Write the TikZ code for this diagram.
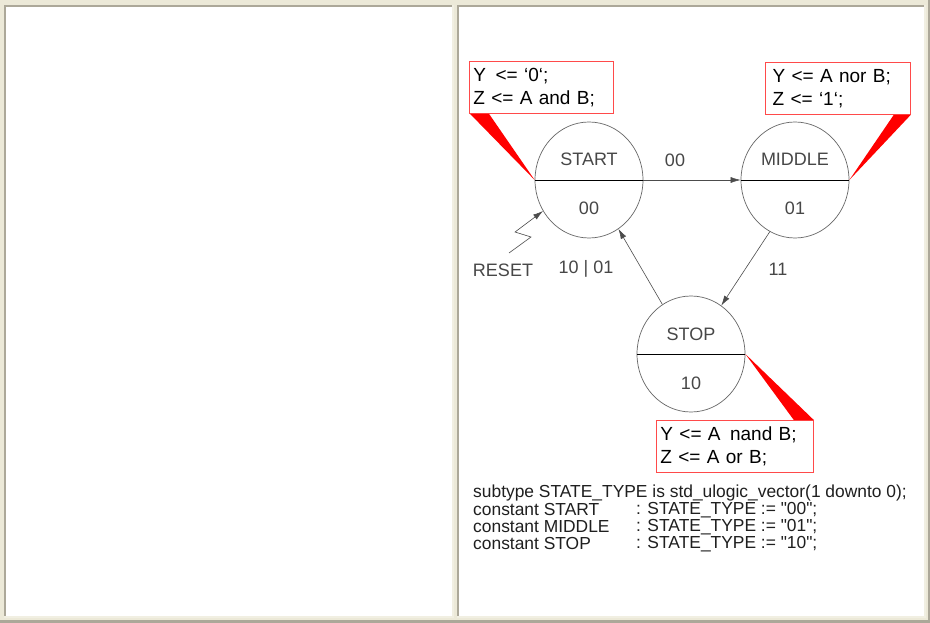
\documentclass[tikz,border=0pt]{standalone}
\usepackage{fontspec}
\setmainfont{Liberation Sans}
\newfontfamily\codefont{Liberation Sans}[Ligatures=ResetAll]
\usetikzlibrary{shapes.geometric,arrows.meta,calc}
\definecolor{winbg}{HTML}{ECE9D8}
\definecolor{windark}{HTML}{ACA899}
\definecolor{winlight}{HTML}{F1EFE2}
\definecolor{boxred}{HTML}{FF4A4A}
\begin{document}
\begin{tikzpicture}[x=1pt,y=-1pt,
  state/.style={ellipse, draw=black!60, line width=0.7pt, minimum width=108pt, minimum height=116pt, inner sep=0pt},
  act/.style={draw=boxred, line width=0.8pt, anchor=north west, minimum height=52pt, align=left,
    font=\fontsize{19}{23}\selectfont, inner xsep=4pt, inner ysep=0pt},
  lbl/.style={font=\fontsize{18}{20}\selectfont, text=black!72, inner sep=0pt},
  code/.style={font=\codefont\fontsize{17.4}{17}\selectfont, text=black!88, anchor=west, inner sep=0pt},
  conn/.style={draw=black!70, line width=0.6pt, -{Latex[length=10pt,width=6pt]}},
  wedge/.style={fill=red}]
\useasboundingbox (0,0) rectangle (930,623);
% window frame
\fill[winbg] (0,0) rectangle (930,623);
\fill[windark] (0,620) rectangle (930,623);
\fill[windark] (928,0) rectangle (930,623);
% left panel
\fill[white] (4,5) rectangle (454,618);
\fill[windark] (4,5) rectangle (6,618);
\fill[windark] (4,5) rectangle (454,7);
\fill[winlight] (452,5) rectangle (454,618);
\fill[winlight] (4,616) rectangle (454,618);
% right panel
\fill[white] (457,5) rectangle (926,618);
\fill[windark] (457,5) rectangle (459,618);
\fill[windark] (457,5) rectangle (926,7);
\fill[winlight] (924,5) rectangle (926,618);
\fill[winlight] (457,616) rectangle (926,618);

% states
\node[state] (start) at (589,180) {};
\node[state] (middle) at (795,180) {};
\node[state] (stop) at (691,354) {};
\draw[black, line width=0.7pt] (start.west) -- (start.east);
\draw[black, line width=0.7pt] (middle.west) -- (middle.east);
\draw[black, line width=0.7pt] (stop.west) -- (stop.east);
\node[lbl] (startname) at (589,159) {START};
\node[lbl] (startcode) at (589,208) {00};
\node[lbl] (middlename) at (795,159) {MIDDLE};
\node[lbl] (middlecode) at (795,208) {01};
\node[lbl] (stopname) at (691,334) {STOP};
\node[lbl] (stopcode) at (691,383) {10};

% action boxes
\node[act, text width=136pt] (ya) at (469,61) {Y \,<= ‘0‘;\\Z <= A and B;};
\node[act, text width=137pt] (ym) at (765,62) {\,Y <= A nor B;\\\,Z <= ‘1‘;};
\node[act, text width=149pt] (ys) at (656,420) {Y <= A \,nand B;\\Z <= A or B;};

% red callout wedges
\fill[wedge] ($(ya.south west)+(1,0)$) -- ($(ya.south west)+(20,0)$) -- (start.west) -- cycle;
\fill[wedge] ($(ym.south east)+(-17,0)$) -- (ym.south east) -- (middle.east) -- cycle;
\fill[wedge] ($(ys.north east)+(-20,0)$) -- (ys.north east) -- (stop.east) -- cycle;

% transitions
\draw[conn] (start.east) -- (middle.west);
\draw[conn] (middle.244) -- (stop.58);
\draw[conn] (stop.120) -- (start.301);
\node[lbl] (t00) at (675,160) {00};
\node[lbl] (t11) at (778,269) {11};
\node[lbl] (t1001) at (586,269) {10 | 01};

% reset
\coordinate (r0) at (509,253);
\coordinate (r1) at (531,237);
\coordinate (r2) at (515,232);
\draw[conn] (r0) -- (r1) -- (r2) -- (start.214);
\node[lbl] (reset) at (503,270) {RESET};

% code text
\node[code] (c1) at (473,493) {subtype STATE\_TYPE is std\_ulogic\_vector(1 downto 0);};
\node[code] (c2) at (473,510) {constant START};
\node[code] (c3) at (473,527) {constant MIDDLE};
\node[code] (c4) at (473,544) {constant STOP};
\node[code] (d2) at (636,510) {: STATE\_TYPE := "00";};
\node[code] (d3) at (636,527) {: STATE\_TYPE := "01";};
\node[code] (d4) at (636,544) {: STATE\_TYPE := "10";};
\end{tikzpicture}
\end{document}
